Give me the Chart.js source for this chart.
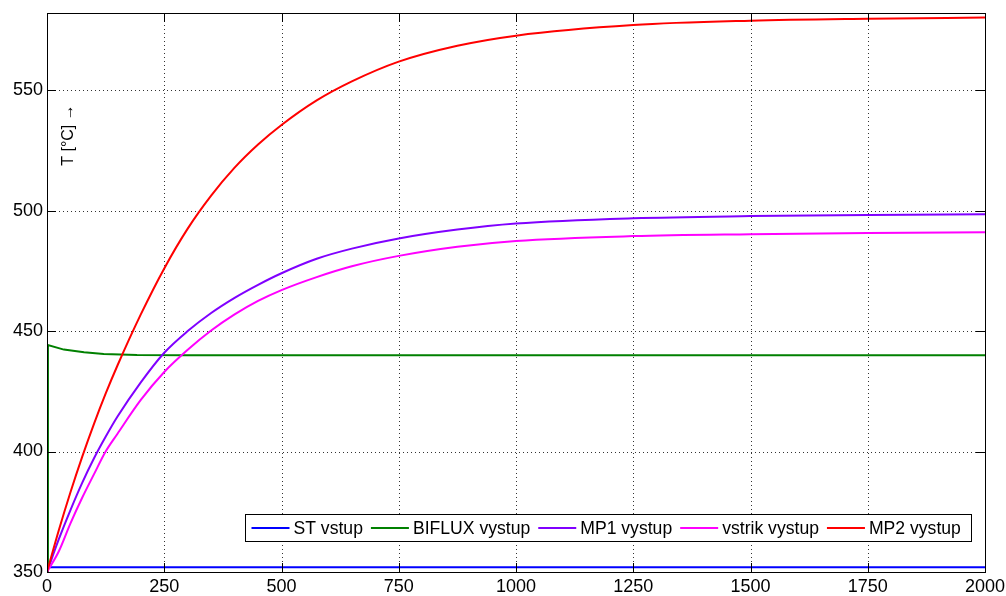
<!DOCTYPE html>
<html>
<head>
<meta charset="utf-8">
<script src="https://cdn.jsdelivr.net/npm/chart.js@4/dist/chart.umd.min.js"></script>
<style>
html,body{margin:0;padding:0;background:#fff;}
#wrap{width:1006px;height:596px;position:relative;}
</style>
</head>
<body>
<div id="wrap"><canvas id="c"></canvas></div>
<script>
// ---- data ----
const seriesNames = ["ST vstup", "BIFLUX vystup", "MP1 vystup", "vstrik vystup", "MP2 vystup"];
const seriesColors = ["#0000ff", "#008000", "#8000ff", "#ff00ff", "#ff0000"];

const stX = [0, 2000];
const stY = [352, 352];

const bifluxX = [0, 2, 36, 79, 121, 192, 300, 2000];
const bifluxY = [350, 444.2, 442.3, 441.2, 440.5, 440.1, 440, 440];

const curveX = [0, 25, 50, 75, 100, 125, 150, 200, 250, 300, 350, 400, 450, 500, 575, 650, 750, 875, 1000, 1250, 1500, 1750, 2000];
const mp1Y   = [350, 363.5, 375.7, 387, 397.1, 406.1, 414.4, 428.7, 441, 450, 457.5, 463.8, 469.2, 474, 480, 484.2, 488.4, 492.1, 494.6, 496.8, 497.7, 498.2, 498.5];
const vstrikY= [350, 358.5, 370.2, 380.8, 390.5, 400, 407.3, 421.4, 433, 442.2, 450.2, 456.9, 462.5, 467, 472.4, 476.9, 481.2, 485, 487.4, 489.4, 490.2, 490.7, 491];
const mp2Y   = [350, 367.2, 383.1, 397.8, 411.4, 424, 435.6, 456.9, 476, 492.5, 506.2, 517.8, 527.4, 535.5, 545.7, 553.6, 561.8, 568.4, 572.6, 577, 578.8, 579.6, 580.1];

const xTicks = [0, 250, 500, 750, 1000, 1250, 1500, 1750, 2000];
const yTicks = [350, 400, 450, 500, 550];
const yAxisLabel = "T [°C] →";

const FONT = '"Liberation Sans", Arial, Helvetica, sans-serif';

function pts(xs, ys){ return xs.map((x,i)=>({x:x, y:ys[i]})); }

const rawSeries = [pts(stX, stY), pts(bifluxX, bifluxY), pts(curveX, mp1Y), pts(curveX, vstrikY), pts(curveX, mp2Y)];

const datasets = rawSeries.map((d,i)=>({
  label: seriesNames[i],
  data: d,
  borderColor: seriesColors[i],
  backgroundColor: seriesColors[i],
  borderWidth: 2,
  pointRadius: 0,
  fill: false,
  tension: i < 2 ? 0 : 0.4,
  cubicInterpolationMode: i < 2 ? 'default' : 'monotone',
  order: 5 - i
}));

const frame = {
  id: 'frame',
  beforeDatasetsDraw(chart){
    const {ctx, chartArea:a, scales:{x, y}} = chart;
    ctx.save();
    ctx.strokeStyle = 'rgba(0,0,0,0.8)';
    ctx.lineWidth = 1;
    ctx.setLineDash([1,3]);
    xTicks.forEach(v=>{
      const px = Math.round(x.getPixelForValue(v)) + 0.5;
      ctx.beginPath(); ctx.moveTo(px, a.top); ctx.lineTo(px, a.bottom); ctx.stroke();
    });
    yTicks.forEach(v=>{
      const py = Math.round(y.getPixelForValue(v)) + 0.5;
      ctx.beginPath(); ctx.moveTo(a.left, py); ctx.lineTo(a.right, py); ctx.stroke();
    });
    ctx.restore();
  },
  afterDatasetsDraw(chart){
    const {ctx, chartArea:a, scales:{x, y}} = chart;
    ctx.save();
    ctx.strokeStyle = '#000';
    ctx.lineWidth = 1;
    ctx.setLineDash([]);
    ctx.strokeRect(Math.round(a.left)+0.5, Math.round(a.top)+0.5, Math.round(a.right-a.left), Math.round(a.bottom-a.top));
    const tl = 9;
    xTicks.forEach(v=>{
      const px = Math.round(x.getPixelForValue(v)) + 0.5;
      ctx.beginPath();
      ctx.moveTo(px, a.bottom); ctx.lineTo(px, a.bottom - tl);
      ctx.moveTo(px, a.top); ctx.lineTo(px, a.top + tl);
      ctx.stroke();
    });
    yTicks.forEach(v=>{
      const py = Math.round(y.getPixelForValue(v)) + 0.5;
      ctx.beginPath();
      ctx.moveTo(a.left, py); ctx.lineTo(a.left + tl, py);
      ctx.moveTo(a.right, py); ctx.lineTo(a.right - tl, py);
      ctx.stroke();
    });
    ctx.fillStyle = '#000';
    ctx.font = '16px ' + FONT;
    ctx.translate(a.left + 22, a.top + 122);
    ctx.rotate(-Math.PI/2);
    ctx.textAlign = 'center';
    ctx.textBaseline = 'middle';
    ctx.fillText(yAxisLabel, 0, 0);
    ctx.restore();

    ctx.save();
    ctx.font = '17.6px ' + FONT;
    const lx = 245.5, ly = 514.5, lh = 27, lw = 726;
    ctx.fillStyle = '#fff';
    ctx.fillRect(lx, ly, lw, lh);
    ctx.strokeStyle = '#000';
    ctx.lineWidth = 1;
    ctx.strokeRect(lx, ly, lw, lh);
    let cx = lx + 6;
    const cy = ly + lh/2;
    ctx.textBaseline = 'middle';
    ctx.textAlign = 'left';
    seriesNames.forEach((n,i)=>{
      ctx.strokeStyle = seriesColors[i];
      ctx.lineWidth = 2;
      ctx.beginPath(); ctx.moveTo(cx, cy); ctx.lineTo(cx + 38, cy); ctx.stroke();
      cx += 42;
      ctx.fillStyle = '#000';
      ctx.fillText(n, cx, cy + 1);
      cx += ctx.measureText(n).width + 8;
    });
    ctx.restore();
  }
};

new Chart(document.getElementById('c'), {
  type: 'line',
  data: { datasets },
  options: {
    responsive: true,
    maintainAspectRatio: false,
    animation: false,
    layout: { padding: { top: 13, right: 21, left: 0, bottom: 0 } },
    plugins: { legend: { display: false }, tooltip: { enabled: false } },
    scales: {
      x: {
        type: 'linear', min: 0, max: 2000,
        grid: { display: false, drawTicks: false },
        border: { display: false },
        afterFit(s){ s.height = 24; s.paddingLeft = 0; s.paddingRight = 0; },
        afterBuildTicks(s){ s.ticks = xTicks.map(v=>({value:v})); },
        ticks: { color: '#000', font: { family: FONT, size: 18 }, padding: 4, maxRotation: 0, autoSkip: false,
                 callback: v => String(v) }
      },
      y: {
        type: 'linear', min: 350, max: 582,
        grid: { display: false, drawTicks: false },
        border: { display: false },
        afterFit(s){ s.width = 47; s.paddingTop = 0; s.paddingBottom = 0; },
        afterBuildTicks(s){ s.ticks = yTicks.map(v=>({value:v})); },
        ticks: { color: '#000', font: { family: FONT, size: 18 }, padding: 4, autoSkip: false,
                 callback: v => String(v) }
      }
    }
  },
  plugins: [frame]
});
</script>
</body>
</html>
